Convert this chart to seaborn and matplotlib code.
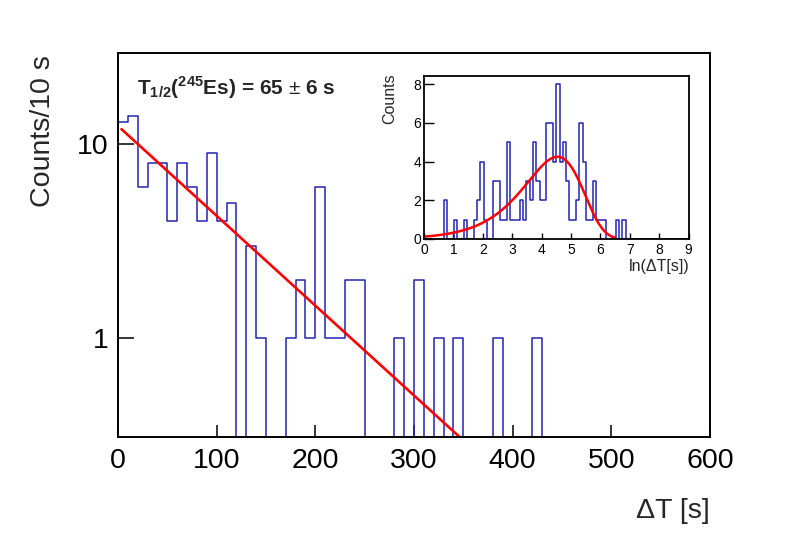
import numpy as np
import pandas as pd
import matplotlib
matplotlib.use("Agg")
import matplotlib.pyplot as plt
from matplotlib.ticker import MultipleLocator, LogLocator, NullFormatter
import seaborn as sns

# ── data ──────────────────────────────────────────
# main histogram: counts per 10 s bin, 0..600 s
dt_bin_width = 10
dt_counts = [13, 14, 6, 8, 8, 4, 8, 6, 4, 9,
             4, 5, 0, 3, 1, 0, 0, 1, 2, 1,
             6, 1, 1, 2, 2, 0, 0, 0, 1, 0,
             2, 0, 1, 0, 1, 0, 0, 0, 1, 0,
             0, 0, 1, 0, 0, 0, 0, 0, 0, 0,
             0, 0, 0, 0, 0, 0, 0, 0, 0, 0]

# inset histogram: counts per ln(dT) bin, 80 bins over 0..9
ln_bin_width = 9 / 80
ln_counts = [0, 0, 0, 0, 0, 0, 2, 0, 0, 1,
             0, 0, 1, 0, 0, 1, 2, 4, 1, 0,
             0, 3, 3, 1, 1, 5, 1, 1, 1, 2,
             1, 3, 2, 5, 3, 2, 2, 6, 6, 4,
             8, 4, 5, 3, 1, 1, 2, 6, 4, 1,
             1, 3, 1, 1, 1, 0, 0, 0, 1, 0,
             1, 0, 0, 0, 0, 0, 0, 0, 0, 0,
             0, 0, 0, 0, 0, 0, 0, 0, 0, 0]

# fit parameters
t_half = 65.0          # s
fit_amp = 12.4         # counts / 10 s at t = 0
fit_range = (3.5, 600)
ln_peak = 4.25         # height of the ln(dT) fit curve
ln_fit_range = (0, 6.5)

hist_color = "#2424b0"
fit_color = "#ff0000"

# ── style ─────────────────────────────────────────
sns.set_theme(style="white")
plt.rcParams["font.family"] = ["Liberation Sans", "DejaVu Sans"]
plt.rcParams["mathtext.fontset"] = "custom"
plt.rcParams["mathtext.rm"] = "Liberation Sans"
plt.rcParams["mathtext.bf"] = "Liberation Sans:bold"
plt.rcParams["axes.edgecolor"] = "black"
plt.rcParams["axes.linewidth"] = 1.4

fig = plt.figure(figsize=(7.88, 5.34), dpi=100)
fig.patch.set_facecolor("white")

# ── main panel ────────────────────────────────────
ax = fig.add_axes([118 / 788, 1 - 437 / 534, 592 / 788, 384 / 534])
n_dt = len(dt_counts)
df_dt = pd.DataFrame({"dt": (np.arange(n_dt) + 0.5) * dt_bin_width,
                      "n": dt_counts})
sns.histplot(data=df_dt, x="dt", weights="n", binwidth=dt_bin_width,
             binrange=(0, n_dt * dt_bin_width), element="step",
             fill=False, color=hist_color, linewidth=1.1, ax=ax)

lam = np.log(2) / t_half
t = np.linspace(fit_range[0], fit_range[1], 400)
sns.lineplot(x=t, y=fit_amp * np.exp(-lam * t), color=fit_color,
             linewidth=1.9, ax=ax)

ax.set_yscale("log")
ax.set_xlim(0, 600)
ax.set_ylim(0.309, 29.5)
ax.set_xlabel("")
ax.set_ylabel("")
ax.xaxis.set_major_locator(MultipleLocator(100))
ax.xaxis.set_minor_locator(MultipleLocator(20))
ax.set_yticks([1, 10])
ax.set_yticklabels(["1", "10"])
ax.yaxis.set_minor_locator(LogLocator(base=10, subs=np.arange(2, 10)))
ax.yaxis.set_minor_formatter(NullFormatter())
ax.tick_params(axis="both", which="both", direction="in", colors="black",
               width=1.1, labelsize=20.5)
ax.tick_params(axis="x", which="major", length=8.5, pad=8)
ax.tick_params(axis="x", which="minor", length=4)
ax.tick_params(axis="y", which="major", length=11.5, pad=7)
ax.tick_params(axis="y", which="minor", length=5.5)
ax.tick_params(bottom=True, left=True, top=False, right=False)

fig.text(43 / 788, 1 - 55 / 534, "Counts/10 s", rotation=90, ha="center",
         va="top", fontsize=20.5)
fig.text(710 / 788, 1 - 518 / 534, "ΔT [s]", ha="right", va="baseline",
         fontsize=20.5)
fig.text(137 / 788, 1 - 88 / 534,
         r"$\mathbf{T_{1/2}}$($^{\mathbf{245}}$Es) = 65 $\pm$ 6 s",
         ha="left", va="center", fontsize=15, fontweight="bold")

# ── inset: ln(dT) distribution ────────────────────
ins = fig.add_axes([424 / 788, 1 - 239 / 534, 264.5 / 788, 163.5 / 534])
ins.set_facecolor("white")
n_ln = len(ln_counts)
df_ln = pd.DataFrame({"lndt": (np.arange(n_ln) + 0.5) * ln_bin_width,
                      "n": ln_counts})
sns.histplot(data=df_ln, x="lndt", weights="n", binwidth=ln_bin_width,
             binrange=(0, n_ln * ln_bin_width), element="step",
             fill=False, color=hist_color, linewidth=1.1, ax=ins)

theta = np.linspace(ln_fit_range[0], ln_fit_range[1], 300)
u = lam * np.exp(theta)
sns.lineplot(x=theta, y=ln_peak * u * np.exp(1 - u), color=fit_color,
             linewidth=1.8, ax=ins)

ins.set_xlim(0, 9)
ins.set_ylim(0, 8.45)
ins.set_xlabel("")
ins.set_ylabel("")
ins.xaxis.set_major_locator(MultipleLocator(1))
ins.xaxis.set_minor_locator(MultipleLocator(0.2))
ins.yaxis.set_major_locator(MultipleLocator(2))
ins.yaxis.set_minor_locator(MultipleLocator(0.5))
ins.tick_params(axis="both", which="both", direction="in", colors="black",
                width=1.0, labelsize=10)
ins.tick_params(axis="x", which="major", length=4, pad=3)
ins.tick_params(axis="x", which="minor", length=2)
ins.tick_params(axis="y", which="major", length=7, pad=2)
ins.tick_params(axis="y", which="minor", length=3.5)
ins.tick_params(bottom=True, left=True, top=False, right=False)
for s in ins.spines.values():
    s.set_linewidth(1.3)

fig.text(390 / 788, 1 - 73 / 534, "Counts", rotation=90, ha="center",
         va="top", fontsize=11.5)
fig.text(690 / 788, 1 - 271 / 534, "ln(ΔT[s])", ha="right", va="baseline",
         fontsize=11.5)

fig.savefig("out.png", dpi=100, facecolor="white")
